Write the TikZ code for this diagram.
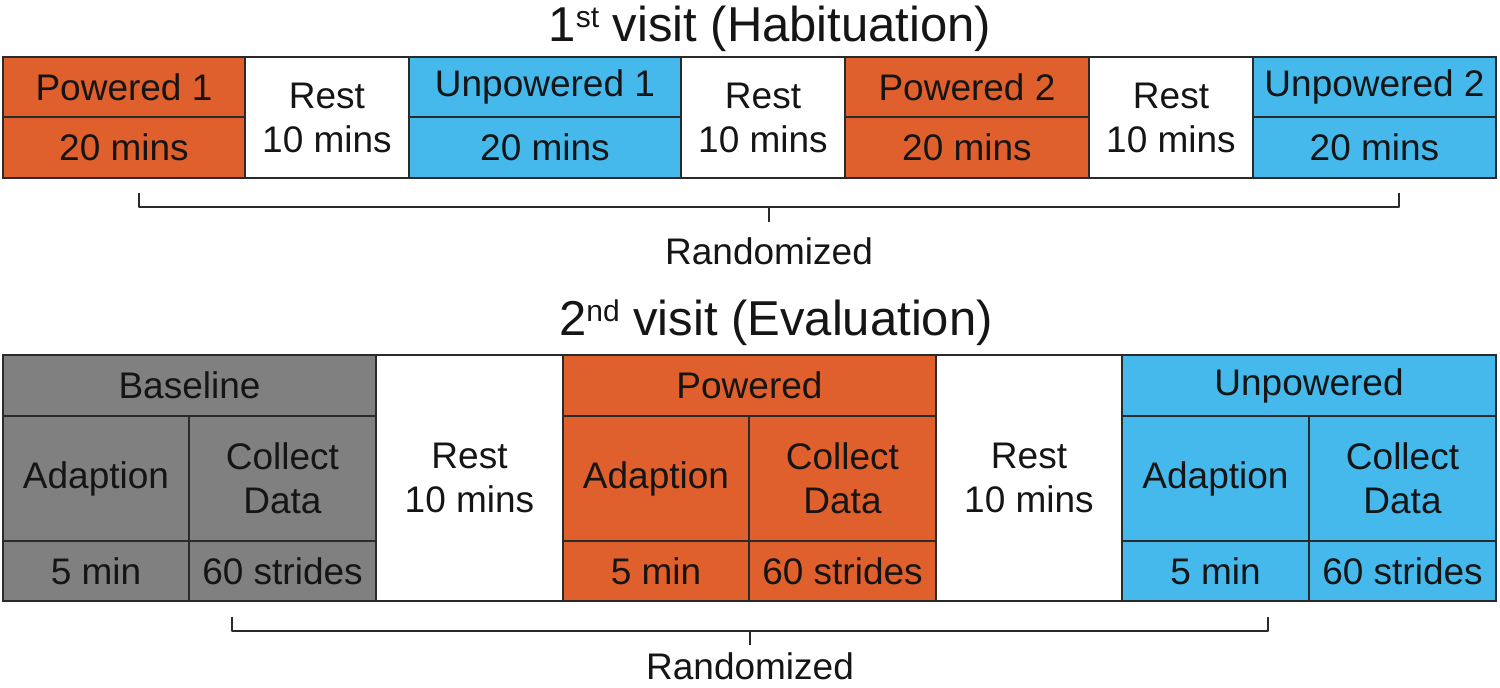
\documentclass[tikz,border=0pt]{standalone}
\usepackage{fontspec}
\setmainfont{Liberation Sans}
\definecolor{orng}{HTML}{E0602D}
\definecolor{blu}{HTML}{45B9EC}
\definecolor{gry}{HTML}{808080}
\definecolor{edge}{HTML}{2A2A2A}
\definecolor{ink}{HTML}{151515}
\newcommand{\mysup}[1]{\raisebox{0.55ex}{\fontsize{15}{16}\selectfont #1}}
\begin{document}
\begin{tikzpicture}[x=0.5pt,y=-0.5pt,
  cell/.style={draw=edge, line width=1pt, rectangle, inner sep=0pt, align=center,
    text=ink, font=\fontsize{18.5}{22}\selectfont},
  ttl/.style={anchor=base, text=ink, font=\fontsize{24.5}{28}\selectfont, inner sep=0pt},
  rnd/.style={anchor=base, text=ink, font=\fontsize{18.5}{22}\selectfont, inner sep=0pt},
  brk/.style={draw=edge, line width=0.8pt, line join=round}]
\useasboundingbox (0,0) rectangle (1500,688);
\fill[white] (0,0) rectangle (1500,688);

% ---------- titles ----------
\node[ttl] (t1) at (770,42) {1\mysup{st} visit (Habituation)};
\node[ttl] (t2) at (776,336) {2\mysup{nd} visit (Evaluation)};

% ---------- first visit ----------
\node[cell, fill=orng, minimum width=121pt, minimum height=30pt]   (p1a) at (124,87) {Powered 1};
\node[cell, fill=orng, minimum width=121pt, minimum height=30.5pt] (p1b) at (124,147.5) {20 mins};
\node[cell, fill=white, minimum width=82pt, minimum height=60.5pt] (r1) at (327,117.5) {Rest\\10 mins};
\node[cell, fill=blu, minimum width=136pt, minimum height=30pt]    (u1a) at (545,87) {Unpowered 1};
\node[cell, fill=blu, minimum width=136pt, minimum height=30.5pt]  (u1b) at (545,147.5) {20 mins};
\node[cell, fill=white, minimum width=82pt, minimum height=60.5pt] (r2) at (763,117.5) {Rest\\10 mins};
\node[cell, fill=orng, minimum width=122pt, minimum height=30pt]   (p2a) at (967,87) {Powered 2};
\node[cell, fill=orng, minimum width=122pt, minimum height=30.5pt] (p2b) at (967,147.5) {20 mins};
\node[cell, fill=white, minimum width=82pt, minimum height=60.5pt] (r3) at (1171,117.5) {Rest\\10 mins};
\node[cell, fill=blu, minimum width=121.5pt, minimum height=30pt]   (u2a) at (1374.5,87) {Unpowered 2};
\node[cell, fill=blu, minimum width=121.5pt, minimum height=30.5pt] (u2b) at (1374.5,147.5) {20 mins};

% bracket 1
\coordinate (b1l) at (139,193);
\coordinate (b1r) at (1399,193);
\coordinate (b1m) at (769,207);
\draw[brk] (b1l) |- (b1m) -| (b1r);
\node[rnd] (rand1) at (769,265) {Randomized};
\draw[brk] (b1m) -- (b1m |- 0,222);

% ---------- second visit ----------
\node[cell, fill=gry, minimum width=186.5pt, minimum height=30.5pt] (bh) at (189.5,385.5) {Baseline};
\node[cell, fill=gry, minimum width=93pt, minimum height=62.5pt]    (ba) at (96,478.5) {Adaption};
\node[cell, fill=gry, minimum width=93.5pt, minimum height=62.5pt]  (bc) at (282.5,478.5) {Collect\\Data};
\node[cell, fill=gry, minimum width=93pt, minimum height=30pt]      (bt) at (96,571) {5 min};
\node[cell, fill=gry, minimum width=93.5pt, minimum height=30pt]    (bs) at (282.5,571) {60 strides};

\node[cell, fill=white, minimum width=93.5pt, minimum height=123pt] (r4) at (469.5,478) {Rest\\10 mins};

\node[cell, fill=orng, minimum width=186.5pt, minimum height=30.5pt] (ph) at (749.5,385.5) {Powered};
\node[cell, fill=orng, minimum width=93pt, minimum height=62.5pt]    (pa) at (656,478.5) {Adaption};
\node[cell, fill=orng, minimum width=93.5pt, minimum height=62.5pt]  (pc) at (842.5,478.5) {Collect\\Data};
\node[cell, fill=orng, minimum width=93pt, minimum height=30pt]      (pt) at (656,571) {5 min};
\node[cell, fill=orng, minimum width=93.5pt, minimum height=30pt]    (ps) at (842.5,571) {60 strides};

\node[cell, fill=white, minimum width=93pt, minimum height=123pt] (r5) at (1029,478) {Rest\\10 mins};

\node[cell, fill=blu, minimum width=187pt, minimum height=30.5pt] (uh) at (1309,385.5) {Unpowered};
\node[cell, fill=blu, minimum width=93.5pt, minimum height=62.5pt] (ua) at (1215.5,478.5) {Adaption};
\node[cell, fill=blu, minimum width=93.5pt, minimum height=62.5pt] (uc) at (1402.5,478.5) {Collect\\Data};
\node[cell, fill=blu, minimum width=93.5pt, minimum height=30pt]   (ut) at (1215.5,571) {5 min};
\node[cell, fill=blu, minimum width=93.5pt, minimum height=30pt]   (us) at (1402.5,571) {60 strides};

% bracket 2
\coordinate (b2l) at (232,617);
\coordinate (b2r) at (1268,617);
\coordinate (b2m) at (750,631);
\draw[brk] (b2l) |- (b2m) -| (b2r);
\draw[brk] (b2m) -- (b2m |- 0,645);
\node[rnd] (rand2) at (750,680) {Randomized};
\end{tikzpicture}
\end{document}
